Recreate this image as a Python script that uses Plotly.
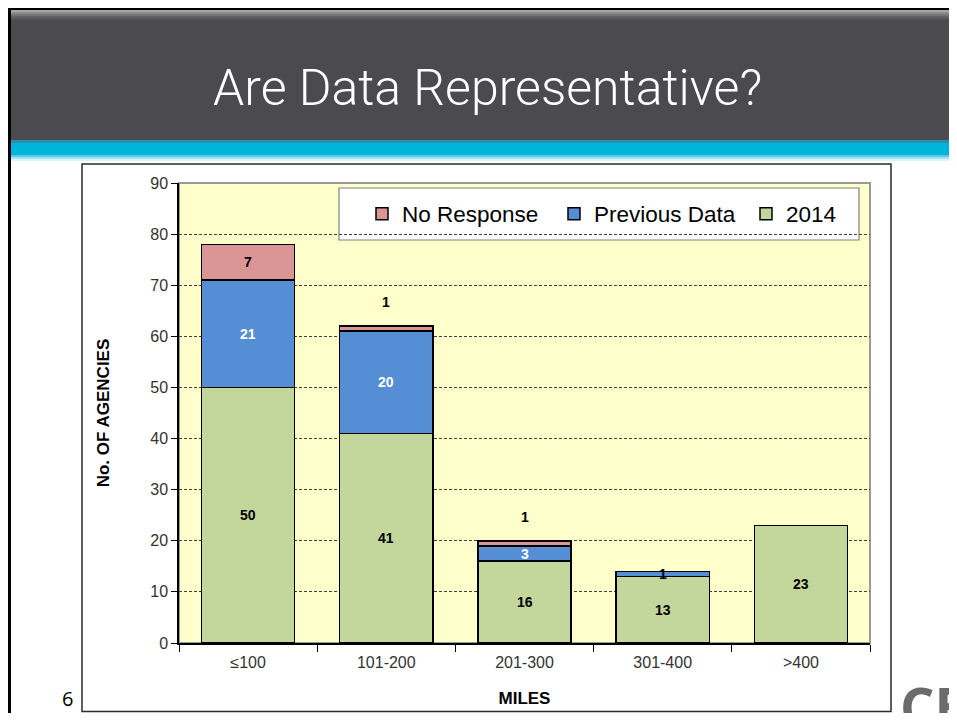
import plotly.graph_objects as go

# ---------------- data ----------------
categories = ["≤100", "101-200", "201-300", "301-400", ">400"]
series_names = ["2014", "Previous Data", "No Response"]
values_2014 = [50, 41, 16, 13, 23]
values_previous = [21, 20, 3, 1, 0]
values_no_response = [7, 1, 1, 0, 0]
y_ticks = [0, 10, 20, 30, 40, 50, 60, 70, 80, 90]

title_text = "Are Data Representative?"
y_title = "No. OF AGENCIES"
x_title = "MILES"

# ---------------- styling ----------------
PAGE_W, PAGE_H = 957, 721
BODY = 8  # default page body margin
W, H = PAGE_W - BODY, PAGE_H - 2 * BODY
FIG_RIGHT, FIG_BOTTOM = BODY + W, BODY + H
PL, PR, PT, PB = 179, 870, 183, 643  # plot area in page px
colors = {"2014": "#c3d69b", "Previous Data": "#558ed5", "No Response": "#d99694"}
ARIAL = "Liberation Sans, Arial, sans-serif"


def px(x):
    return (x - PL) / (PR - PL)


def py(y):
    return (PB - y) / (PB - PT)


fig = go.Figure()
series_values = [values_2014, values_previous, values_no_response]
for name, vals in zip(series_names, series_values):
    fig.add_trace(go.Bar(
        x=categories, y=vals, name=name,
        marker=dict(color=colors[name], line=dict(color="#000000", width=1.5)),
        hoverinfo="x+y+name",
    ))

# ---------------- data labels ----------------
annotations = []
for i, cat in enumerate(categories):
    base = 0
    for name, vals in zip(series_names, series_values):
        v = vals[i]
        if v > 0:
            small = v <= 1
            if name == "No Response" and small:
                ay, ysh = base + v, 24
            else:
                ay, ysh = base + v / 2, 0
            col = "#ffffff" if (name == "Previous Data" and not small) else "#000000"
            annotations.append(dict(
                x=cat, y=ay, xref="x", yref="y", text=f"<b>{v}</b>",
                showarrow=False, yshift=ysh,
                font=dict(family=ARIAL, size=14, color=col),
            ))
        base += v

# slide title
annotations.append(dict(
    x=px(487), y=py(88), xref="paper", yref="paper", text=title_text,
    showarrow=False, xanchor="center", yanchor="middle",
    font=dict(family="Roboto, Liberation Sans, sans-serif", size=50, color="#ffffff", weight=300),
))
# slide number
annotations.append(dict(
    x=px(67), y=py(698), xref="paper", yref="paper", text="6",
    showarrow=False, xanchor="center", yanchor="middle",
    font=dict(family="Open Sans, Liberation Sans, sans-serif", size=20, color="#000000"),
))
# partial logo text at right edge
annotations.append(dict(
    x=px(898), y=py(667), xref="paper", yref="paper", text="<b>CE</b>",
    showarrow=False, xanchor="left", yanchor="top",
    font=dict(family="Open Sans, Liberation Sans, sans-serif", size=54, color="#6b6b6b"),
))

# ---------------- decorative shapes ----------------
shapes = []
shapes.append(dict(type="rect", xref="paper", yref="paper", x0=px(9), x1=px(965), y0=py(9), y1=py(142),
                   fillcolor="#4b4b4f", line=dict(width=0), layer="below"))
for k, c in enumerate(["#a6a6a8", "#8c8c8f", "#747477", "#616164", "#545457"]):
    shapes.append(dict(type="rect", xref="paper", yref="paper", x0=px(9), x1=px(965),
                       y0=py(10 + 2 * k), y1=py(12 + 2 * k), fillcolor=c, line=dict(width=0), layer="below"))
shapes.append(dict(type="rect", xref="paper", yref="paper", x0=px(9), x1=px(965), y0=py(141), y1=py(155),
                   fillcolor="#00b4dc", line=dict(width=0), layer="below"))
shapes.append(dict(type="rect", xref="paper", yref="paper", x0=px(9), x1=px(965), y0=py(140), y1=py(143),
                   fillcolor="#2a8fae", line=dict(width=0), layer="below"))
for k, c in enumerate(["#5cc9e6", "#a6e2f1", "#dcf3f9"]):
    shapes.append(dict(type="rect", xref="paper", yref="paper", x0=px(9), x1=px(965),
                       y0=py(155 + 2 * k), y1=py(157 + 2 * k), fillcolor=c, line=dict(width=0), layer="below"))
# slide frame lines
shapes.append(dict(type="line", xref="paper", yref="paper", x0=px(8), x1=px(965), y0=py(9), y1=py(9),
                   line=dict(color="#000000", width=2)))
shapes.append(dict(type="line", xref="paper", yref="paper", x0=px(9.5), x1=px(9.5), y0=py(8), y1=py(730),
                   line=dict(color="#000000", width=3)))
# chart box
shapes.append(dict(type="rect", xref="paper", yref="paper", x0=px(82), x1=px(891), y0=py(164), y1=py(711.5),
                   fillcolor="rgba(0,0,0,0)", line=dict(color="#2b2b2b", width=1.5), layer="below"))
# plot area border (gray)
shapes.append(dict(type="rect", xref="paper", yref="paper", x0=0, x1=1, y0=0, y1=1,
                   fillcolor="rgba(0,0,0,0)", line=dict(color="#9a9a9a", width=2), layer="below"))
# legend box
shapes.append(dict(type="rect", xref="paper", yref="paper", x0=px(339), x1=px(859), y0=py(188), y1=py(240),
                   fillcolor="#ffffff", line=dict(color="#808080", width=1.2), layer="below"))

fig.update_layout(
    width=W, height=H,
    margin=dict(l=PL - BODY, r=FIG_RIGHT - PR, t=PT - BODY, b=FIG_BOTTOM - PB, autoexpand=False),
    paper_bgcolor="#ffffff", plot_bgcolor="#ffffcc",
    barmode="stack", bargap=0.325,
    showlegend=True,
    legend=dict(
        orientation="h", x=px(362), y=py(214), xanchor="left", yanchor="middle",
        traceorder="reversed", bgcolor="rgba(0,0,0,0)", borderwidth=0,
        font=dict(family=ARIAL, size=22.5, color="#000000"),
        entrywidth=147, entrywidthmode="pixels",
    ),
    font=dict(family=ARIAL, color="#333333"),
    annotations=annotations,
    shapes=shapes,
    xaxis=dict(
        type="category", categoryorder="array", categoryarray=categories,
        tickson="boundaries", ticks="outside", ticklen=7, tickwidth=1.2, tickcolor="#000000",
        showline=True, linecolor="#000000", linewidth=1.5, showgrid=False,
        tickfont=dict(family=ARIAL, size=16, color="#333333"), ticklabelstandoff=4,
        title=dict(text=f"<b>{x_title}</b>", font=dict(family=ARIAL, size=17, color="#000000"), standoff=22),
        fixedrange=True,
    ),
    yaxis=dict(
        range=[0, 90], tickvals=y_ticks, ticks="outside", ticklen=6, tickwidth=1.2, tickcolor="#000000",
        showline=True, linecolor="#000000", linewidth=1.5,
        showgrid=True, gridcolor="#404040", gridwidth=1, griddash="3px,2px", zeroline=False,
        tickfont=dict(family=ARIAL, size=16, color="#333333"),
        title=dict(text=f"<b>{y_title}</b>", font=dict(family=ARIAL, size=17, color="#000000"), standoff=36),
        fixedrange=True,
    ),
)

fig.write_html("out.html")
